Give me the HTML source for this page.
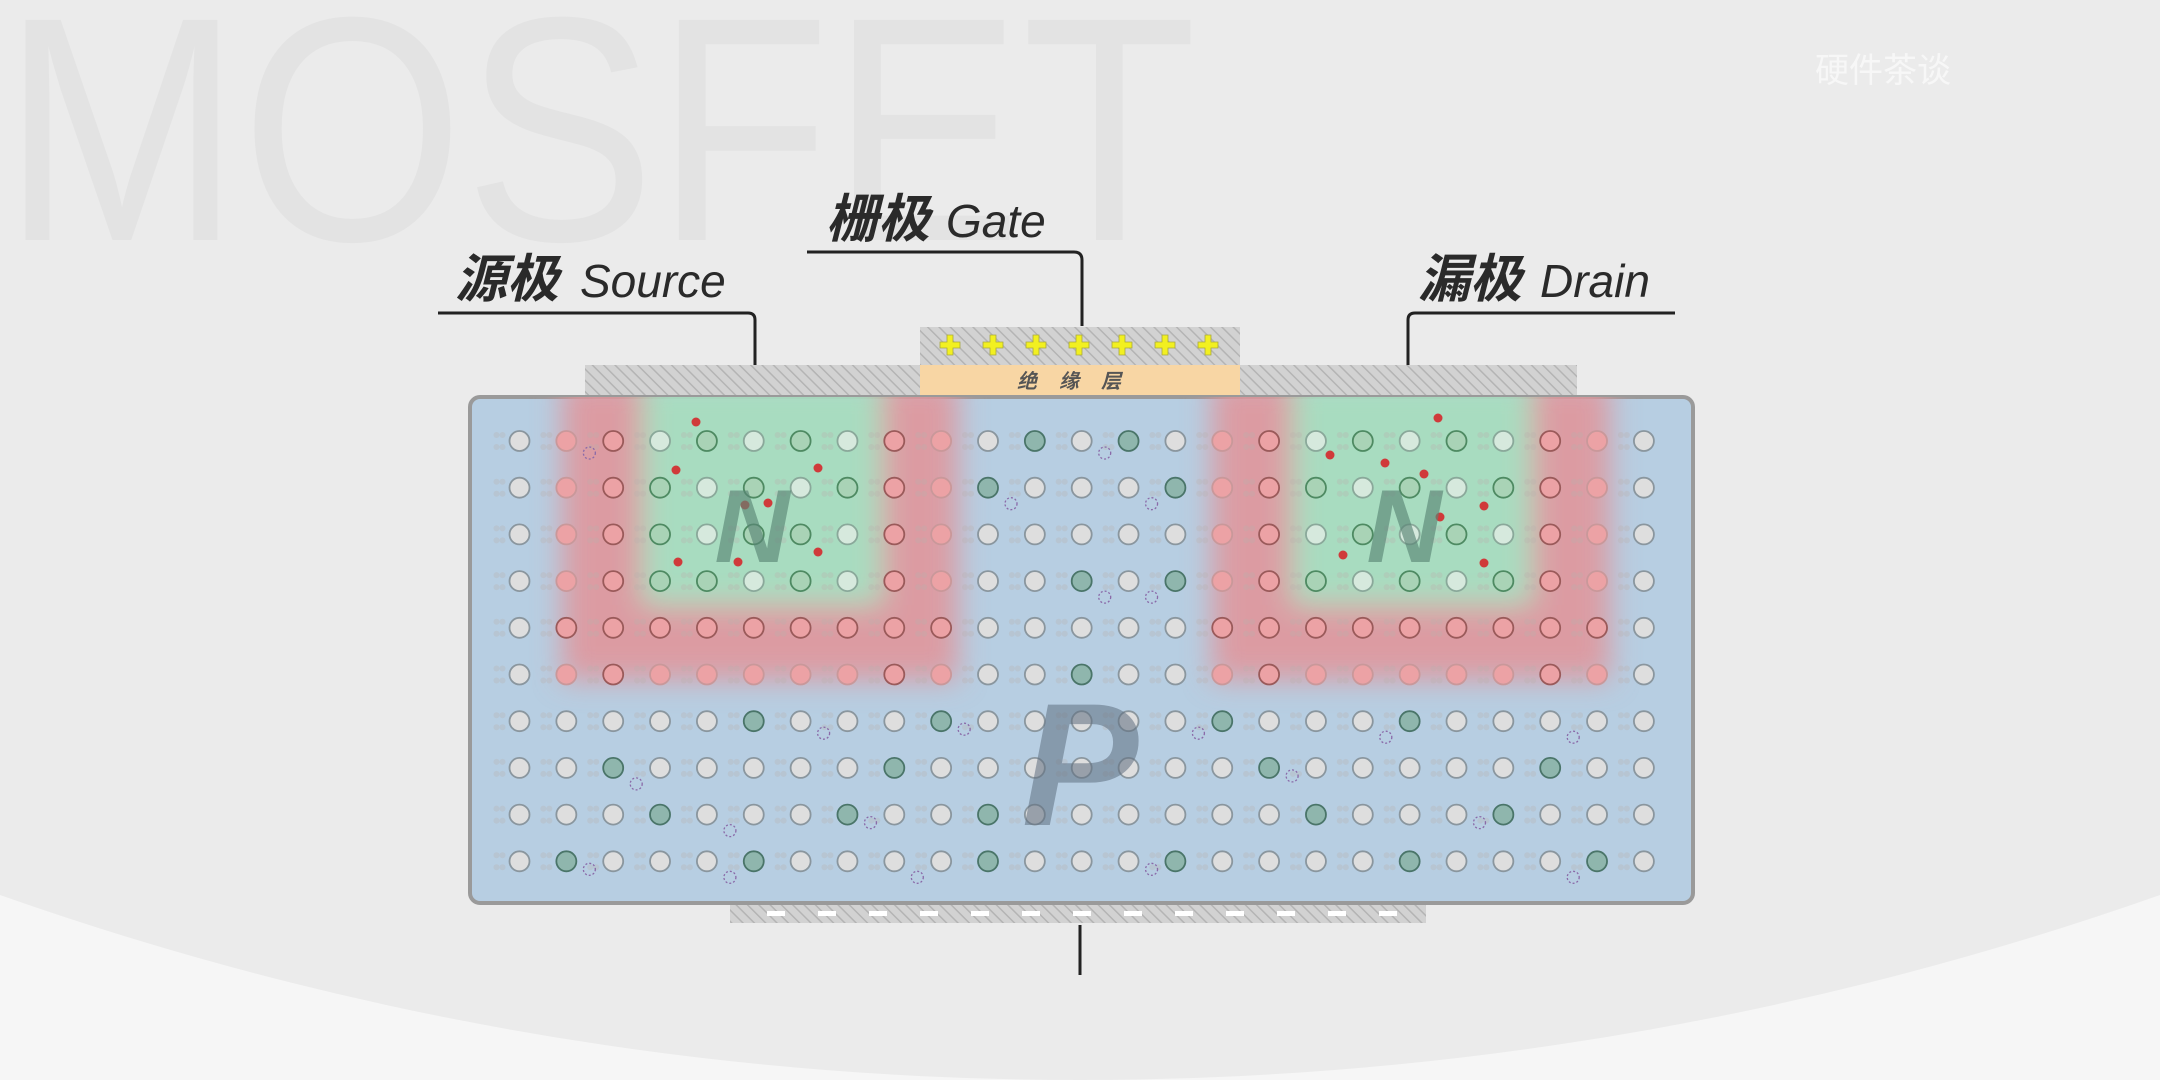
<!DOCTYPE html>
<html><head><meta charset="utf-8">
<style>
html,body{margin:0;padding:0;width:2160px;height:1080px;overflow:hidden;background:#f6f6f6}
svg{display:block}
text{font-family:"Liberation Sans","Noto Sans CJK SC",sans-serif}
</style></head>
<body>
<svg id="chart" width="2160" height="1080" viewBox="0 0 2160 1080" xmlns="http://www.w3.org/2000/svg">
<defs>
<pattern id="hatch" width="8" height="8" patternUnits="userSpaceOnUse" patternTransform="rotate(-45)">
<rect width="8" height="8" fill="#d2d2d2"/><line x1="0" y1="0" x2="0" y2="8" stroke="#b4b4b4" stroke-width="3"/>
</pattern>
<filter id="blur" x="-20%" y="-20%" width="140%" height="140%"><feGaussianBlur stdDeviation="14"/></filter>
<clipPath id="bodyclip"><rect x="470" y="397" width="1223" height="506" rx="10"/></clipPath>
</defs>
<rect width="2160" height="1080" fill="#f6f6f6"/>
<circle cx="1080" cy="-2165" r="3245" fill="#ebebeb"/>
<text x="2" y="240" font-size="320" fill="#e3e3e3" textLength="1195" lengthAdjust="spacingAndGlyphs">MOSFET</text>
<text x="1815" y="82" font-size="34" fill="#f7f7f7">硬件茶谈</text>

<g>
<text x="455" y="297" font-size="52" font-weight="bold" font-style="italic" fill="#2a2a2a">源极</text>
<text x="580" y="297" font-size="46" font-style="italic" fill="#2a2a2a">Source</text>
<path d="M438 313 H748 Q755 313 755 320 V365" fill="none" stroke="#222" stroke-width="3"/>
</g>
<g>
<text x="826" y="237" font-size="52" font-weight="bold" font-style="italic" fill="#2a2a2a">栅极</text>
<text x="946" y="237" font-size="46" font-style="italic" fill="#2a2a2a">Gate</text>
<path d="M807 252 H1074 Q1082 252 1082 260 V326" fill="none" stroke="#222" stroke-width="3"/>
</g>
<g>
<text x="1418" y="297" font-size="52" font-weight="bold" font-style="italic" fill="#2a2a2a">漏极</text>
<text x="1540" y="297" font-size="46" font-style="italic" fill="#2a2a2a">Drain</text>
<path d="M1675 313 H1415 Q1408 313 1408 320 V365" fill="none" stroke="#222" stroke-width="3"/>
</g>

<rect x="585" y="365" width="337" height="32" fill="url(#hatch)"/>
<rect x="1240" y="365" width="337" height="32" fill="url(#hatch)"/>
<rect x="920" y="327" width="320" height="38" fill="url(#hatch)"/>
<rect x="920" y="365" width="320" height="32" fill="#f8d6a4"/>
<text x="1080" y="388" font-size="20" font-weight="bold" font-style="italic" fill="#555" text-anchor="middle" letter-spacing="22">绝缘层</text>
<g id="plus"></g>

<rect x="470" y="397" width="1223" height="506" rx="10" fill="#b7cee2" stroke="#9a9a9a" stroke-width="4"/>
<g clip-path="url(#bodyclip)">
<g filter="url(#blur)">
<rect x="562" y="380" width="396" height="300" fill="#e0969b" opacity="0.9"/>
<rect x="1212" y="380" width="398" height="300" fill="#e0969b" opacity="0.9"/>
<rect x="642" y="380" width="240" height="225" fill="#a8dcc0"/>
<rect x="1292" y="380" width="240" height="225" fill="#a8dcc0"/>
</g>
<g id="dots"></g>
<g id="circles"></g>
</g>
<text x="752" y="562" font-size="104" font-weight="bold" font-style="italic" fill="#5a8676" opacity="0.65" text-anchor="middle">N</text>
<text x="1404" y="562" font-size="104" font-weight="bold" font-style="italic" fill="#5a8676" opacity="0.65" text-anchor="middle">N</text>
<text x="1080" y="825" font-size="175" font-weight="bold" font-style="italic" fill="#5f6f80" opacity="0.55" text-anchor="middle">P</text>

<rect x="730" y="905" width="696" height="18" fill="url(#hatch)"/>
<g id="minus"></g>
<line x1="1080" y1="925" x2="1080" y2="975" stroke="#222" stroke-width="3"/>
</svg>
<script>
const NS="http://www.w3.org/2000/svg";
const colCount=25, rowCount=10;
const x0=519.5, dx=46.85, y0=441, dy=46.7;
const tealCells=[[11,0],[13,0],[10,1],[14,1],[12,3],[14,3],[12,5],[5,6],[9,6],[15,6],[19,6],[2,7],[8,7],[16,7],[22,7],[3,8],[7,8],[10,8],[17,8],[21,8],[1,9],[5,9],[10,9],[14,9],[19,9],[23,9]];
const greenCells=[[4,0],[6,0],[3,1],[5,1],[7,1],[3,2],[5,2],[6,2],[3,3],[4,3],[6,3],[18,0],[20,0],[17,1],[19,1],[21,1],[18,2],[20,2],[17,3],[19,3],[21,3]];
const electrons=[[696,422],[676,470],[745,505],[768,503],[818,468],[678,562],[738,562],[818,552],[1438,418],[1330,455],[1385,463],[1424,474],[1440,517],[1484,506],[1343,555],[1484,563]];
const holes=[[1,0,0],[12,0,0],[10,1,1],[13,1,1],[12,3,1],[13,3,1],[1,9,-1],[4,9,1],[8,9,1],[13,9,-1],[2,7,1],[4,8,1],[7,8,-1],[16,7,-1],[20,8,-1],[22,6,1],[14,6,0],[6,6,0],[18,6,1],[22,9,1],[9,6,-1]];
const gatePlus=[0,1,2,3,4,5,6];
const bodyMinus=[0,1,2,3,4,5,6,7,8,9,10,11,12];
const cx=i=>x0+i*dx, cy=j=>y0+j*dy;
const has=(arr,i,j)=>arr.some(a=>a[0]===i&&a[1]===j);
const inRed=(i,j)=>((i>=1&&i<=9)||(i>=15&&i<=23))&&j<=5;
const inGreen=(i,j)=>((i>=3&&i<=7)||(i>=17&&i<=21))&&j<=3;
const cg=document.getElementById('circles'), dg=document.getElementById('dots');
for(let j=0;j<rowCount;j++){for(let i=0;i<colCount;i++){
  for(const [ox,oy] of [[-23,-6],[-23,6],[-17,-6],[-17,6]]){
    const d=document.createElementNS(NS,'circle');
    d.setAttribute('cx',cx(i)+ox);d.setAttribute('cy',cy(j)+oy);d.setAttribute('r',3);
    d.setAttribute('fill','#b8b0ac');d.setAttribute('opacity','0.3');
    
    
    dg.appendChild(d);
  }
  const c=document.createElementNS(NS,'circle');
  c.setAttribute('cx',cx(i));c.setAttribute('cy',cy(j));c.setAttribute('r',10);
  let fill='#dedede',stroke='#8a969e';
  if(has(tealCells,i,j)){fill='#8fb6ad';stroke='#4a7569';}
  else if(inGreen(i,j)){ if(has(greenCells,i,j)){fill='#a9d3b6';stroke='#4e8a62';} else {fill='#d6e9dd';stroke='#8aa89a';} }
  else if(inRed(i,j)){ fill='#eca2a5'; stroke=(i===2||i===8||i===16||i===22||j===4)?'#9a5a5a':'#c9989a'; }
  c.setAttribute('fill',fill);c.setAttribute('stroke',stroke);c.setAttribute('stroke-width',1.8);
  
  
  cg.appendChild(c);
}}
holes.forEach(h=>{
  const c=document.createElementNS(NS,'circle');
  c.setAttribute('cx',cx(h[0])+23);c.setAttribute('cy',cy(h[1])+12+h[2]*4);c.setAttribute('r',6);
  c.setAttribute('fill','none');c.setAttribute('stroke','#8a6aa8');c.setAttribute('stroke-width',1.3);c.setAttribute('stroke-dasharray','2 2');
  
  
  cg.appendChild(c);
});
electrons.forEach(e=>{
  const c=document.createElementNS(NS,'circle');
  c.setAttribute('cx',e[0]);c.setAttribute('cy',e[1]);c.setAttribute('r',4.5);c.setAttribute('fill','#d03a3a');
  
  
  cg.appendChild(c);
});
const pg=document.getElementById('plus');
gatePlus.forEach(k=>{
  const px=950+k*43, py=345;
  const p=document.createElementNS(NS,'path');
  p.setAttribute('d',`M${px-3} ${py-10}h6v7h7v6h-7v7h-6v-7h-7v-6h7z`);
  p.setAttribute('fill','#f2f020');p.setAttribute('stroke','#a8a840');p.setAttribute('stroke-width',0.8);
  
  
  pg.appendChild(p);
});
const mg=document.getElementById('minus');
bodyMinus.forEach(k=>{
  const r=document.createElementNS(NS,'rect');
  r.setAttribute('x',767+k*51);r.setAttribute('y',911);r.setAttribute('width',18);r.setAttribute('height',5);r.setAttribute('fill','#ffffff');
  
  
  mg.appendChild(r);
});
</script>
</body></html>
